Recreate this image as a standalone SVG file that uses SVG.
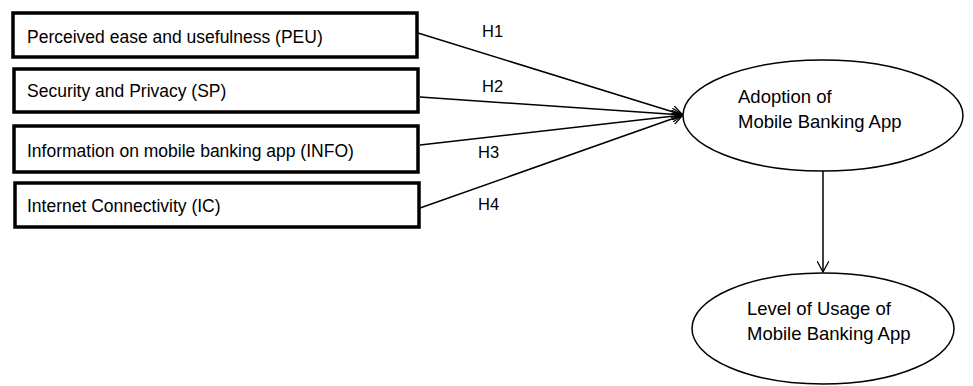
<svg xmlns="http://www.w3.org/2000/svg" width="973" height="386" viewBox="0 0 973 386">
<style>
.box{fill:#fff;stroke:#000;stroke-width:3.5}
.ell{fill:#fff;stroke:#000;stroke-width:1.5}
.t{font-family:"Liberation Sans",Arial,sans-serif;font-size:17.5px;fill:#000}
.e{font-family:"Liberation Sans",Arial,sans-serif;font-size:18.5px;fill:#000}
.h{font-family:"Liberation Sans",Arial,sans-serif;font-size:16.5px;fill:#000}
.c{stroke:#000;stroke-width:1.5;fill:none;marker-end:url(#arr)}
</style>
<defs>
<marker id="arr" viewBox="0 0 12 12" refX="11" refY="6" markerWidth="12" markerHeight="12" markerUnits="userSpaceOnUse" orient="auto">
<path d="M0,0 L11,6 L0,12" fill="none" stroke="#000" stroke-width="1.3"/>
</marker>
</defs>
<rect width="973" height="386" fill="#fff"/>
<g id="connectors">
<line class="c" x1="418" y1="33" x2="683" y2="115"/>
<line class="c" x1="420" y1="97" x2="683" y2="115"/>
<line class="c" x1="420" y1="145" x2="683" y2="115"/>
<line class="c" x1="420" y1="208" x2="683" y2="115"/>
<line class="c" x1="823" y1="171" x2="823" y2="272"/>
<text class="h" x="482" y="37">H1</text>
<text class="h" x="482" y="92">H2</text>
<text class="h" x="478" y="158">H3</text>
<text class="h" x="478" y="210">H4</text>
</g>
<g id="peu">
<rect class="box" x="13" y="13" width="404" height="44"/>
<text class="t" x="27" y="43">Perceived ease and usefulness (PEU)</text>
</g>
<g id="sp">
<rect class="box" x="14" y="69" width="404" height="43"/>
<text class="t" x="27" y="97">Security and Privacy (SP)</text>
</g>
<g id="info">
<rect class="box" x="14" y="126" width="404" height="46"/>
<text class="t" x="27" y="157">Information on mobile banking app (INFO)</text>
</g>
<g id="ic">
<rect class="box" x="15" y="183" width="404" height="44"/>
<text class="t" x="27" y="212">Internet Connectivity (IC)</text>
</g>
<g id="adoption">
<ellipse class="ell" cx="823" cy="115.5" rx="140" ry="55.5"/>
<text class="e" x="738" y="103">Adoption of</text>
<text class="e" x="738" y="128">Mobile Banking App</text>
</g>
<g id="usage">
<ellipse class="ell" cx="823" cy="328.5" rx="131" ry="55.5"/>
<text class="e" x="747" y="315">Level of Usage of</text>
<text class="e" x="747" y="340">Mobile Banking App</text>
</g>
</svg>
